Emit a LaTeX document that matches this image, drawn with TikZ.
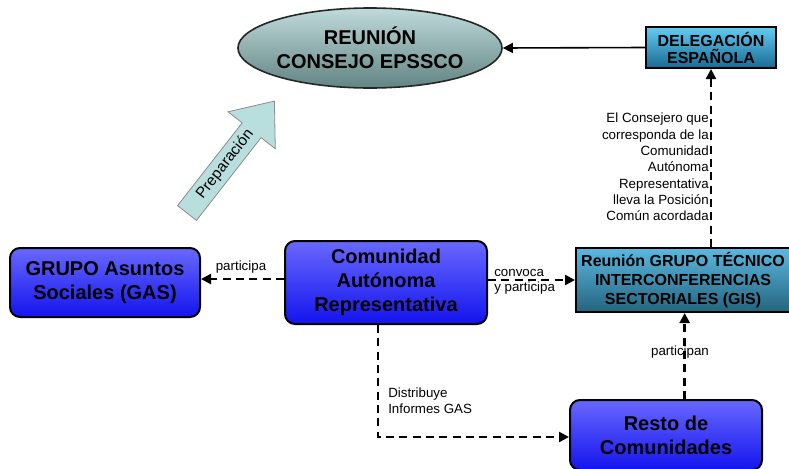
\documentclass[tikz,border=0pt]{standalone}
\usepackage{fontspec}
\setmainfont{Liberation Sans}
\usetikzlibrary{arrows.meta,shapes.geometric}
\definecolor{bluetop}{HTML}{6868FF}
\definecolor{bluebot}{HTML}{1414EE}
\definecolor{gistop}{HTML}{5CB8E0}
\definecolor{gisbot}{HTML}{24647E}
\definecolor{deltop}{HTML}{62CCF4}
\definecolor{delbot}{HTML}{1A6A92}
\definecolor{elltop}{HTML}{C0DADA}
\definecolor{ellbot}{HTML}{628484}
\definecolor{prepfill}{HTML}{B8DEDE}
\tikzset{
  bluebox/.style={draw=black, line width=1.5pt, rounded corners=7.5pt,
    top color=bluetop, bottom color=bluebot, inner sep=0pt, align=center,
    font=\fontsize{15}{18}\selectfont\bfseries},
  tealbox/.style={draw=black, line width=1.5pt, inner sep=0pt, align=center,
    font=\fontsize{12}{14.5}\selectfont\bfseries},
  dasharrow/.style={line width=1.8pt, dash pattern=on 6pt off 4pt,
    -{Triangle[length=7.5pt,width=7.5pt]}},
  solidarrow/.style={line width=1.2pt, -{Triangle[length=7.5pt,width=7.5pt]}},
  lbl/.style={font=\fontsize{10}{12}\selectfont, inner sep=0pt}
}
\begin{document}
\begin{tikzpicture}[x=0.75pt,y=-0.75pt]
\useasboundingbox (0,0) rectangle (789,468);
% ellipse
\node[ellipse, draw=black!85, line width=1.2pt, top color=elltop, bottom color=ellbot,
  minimum width=198pt, minimum height=60pt, inner sep=0pt, align=center,
  font=\fontsize{15}{18}\selectfont\bfseries] (ell) at (370,48) {REUNIÓN\\CONSEJO EPSSCO};
% delegacion
\node[tealbox, top color=deltop, bottom color=delbot, minimum width=97.5pt, minimum height=30.75pt,
  font=\fontsize{12}{12.75}\selectfont\bfseries] (del) at (711,47.5) {DELEGACIÓN\\ESPAÑOLA};
% GIS
\node[tealbox, top color=gistop, bottom color=gisbot, minimum width=160.5pt, minimum height=48pt]
  (gis) at (683,280) {Reunión GRUPO TÉCNICO\\INTERCONFERENCIAS\\SECTORIALES (GIS)};
% blue boxes
\node[bluebox, minimum width=142.5pt, minimum height=51.75pt] (gas) at (105,282.5) {GRUPO Asuntos\\Sociales (GAS)};
\node[bluebox, minimum width=151.5pt, minimum height=62.25pt] (com) at (386,282.5) {Comunidad\\Autónoma\\Representativa};
\node[bluebox, minimum width=144pt, minimum height=52.5pt] (resto) at (666,435) {Resto de\\Comunidades};
% Preparacion arrow
\begin{scope}[shift={(187,213)}, rotate=52]
  \draw[fill=prepfill, draw=black!45, line width=0.6pt]
    (0,-12) -- (105,-12) -- (105,-30) -- (142,0) -- (105,30) -- (105,12) -- (0,12) -- cycle;
  \node[font=\fontsize{11.5}{13}\selectfont, inner sep=0pt, rotate=52] (prep) at (62,0) {Preparación};
\end{scope}
% connectors
\draw[solidarrow] (del.west) -- (ell.east);
\draw[dasharrow] (gis.north -| del.south) -- (del.south);
\draw[dasharrow] (com.west |- 0,279) -- (gas.east |- 0,279);
\draw[dasharrow] (com.east |- 0,280) -- (gis.west |- 0,280);
\draw[dasharrow] ([xshift=-6]com.south) |- (resto.west |- 0,437);
\draw[dasharrow] ([xshift=14]resto.north) -- ([xshift=14]resto.north |- gis.south);
% labels
\node[lbl] (lpart) at (241,267) {participa};
\node[lbl, anchor=west, align=left, font=\fontsize{10}{11.5}\selectfont] (lconv) at (494,281.5) {convoca\\y participa};
\node[lbl, anchor=west, align=left] (ldist) at (388,401) {Distribuye\\Informes GAS};
\node[lbl] (lparts) at (680,352) {participan};
\node[lbl, anchor=east, align=right, font=\fontsize{10}{12.2}\selectfont] (lcons) at (709,167)
  {El Consejero que\\corresponda de la\\Comunidad\\Autónoma\\Representativa\\lleva la Posición\\Común acordada};
\end{tikzpicture}
\end{document}
